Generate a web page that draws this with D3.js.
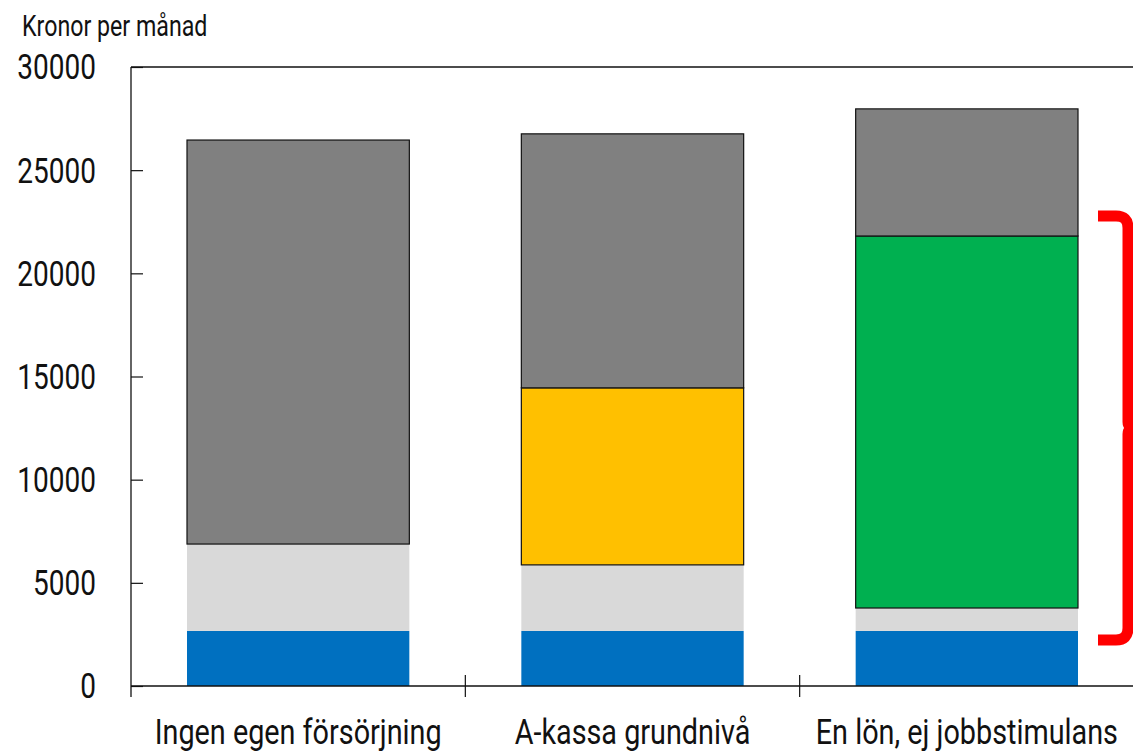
<!DOCTYPE html>
<html lang="sv">
<head>
<meta charset="UTF-8">
<script src="https://d3js.org/d3.v7.min.js"></script>
<style>
  body { margin: 0; background: #fff; }
  text { font-family: Roboto, "Noto Sans", sans-serif; fill: #111; }
</style>
</head>
<body>
<svg width="1133" height="752"></svg>
<script>
// data
const categories = ["Ingen egen försörjning", "A-kassa grundnivå", "En lön, ej jobbstimulans"];
const seriesNames = ["Bas", "Övrigt", "A-kassa", "Lön", "Rest"];
const seriesColors = ["#0070C0", "#D9D9D9", "#FFC000", "#00B050", "#808080"];
const seriesStroke = [false, false, true, true, true];
const bas    = [2670, 2670, 2670];
const ovrigt = [4210, 3200, 1110];
const akassa = [0, 8580, 0];
const lon    = [0, 0, 18030];
const rest   = [19580, 12310, 6160];
const yTicks = [0, 5000, 10000, 15000, 20000, 25000, 30000];
const bracketRange = [2230, 22780];

const svg = d3.select("svg");
const m = {left: 131, top: 67, right: 1134, bottom: 686};
const squeeze = 0.8; // condensed look

const x = d3.scaleBand().domain(categories).range([m.left, m.right]).paddingInner(0.335).paddingOuter(0.1675);
const band = d3.scaleBand().domain(categories).range([m.left, m.right]);
const y = d3.scaleLinear().domain([0, 30000]).range([m.bottom, m.top]);

const table = categories.map((c, i) => ({
  cat: c, Bas: bas[i], "Övrigt": ovrigt[i], "A-kassa": akassa[i], "Lön": lon[i], Rest: rest[i]
}));
const stack = d3.stack().keys(seriesNames)(table);

// bars
stack.forEach((layer, si) => {
  svg.append("g").selectAll("rect")
    .data(layer.filter(d => d[1] > d[0]))
    .enter().append("rect")
    .attr("x", d => x(d.data.cat))
    .attr("width", x.bandwidth())
    .attr("y", d => y(d[1]))
    .attr("height", d => y(d[0]) - y(d[1]))
    .attr("fill", seriesColors[si])
    .attr("stroke", seriesStroke[si] ? "#111" : "none")
    .attr("stroke-width", 1.2);
});

// frame: top line, left axis, bottom axis
svg.append("line").attr("x1", m.left).attr("x2", 1133).attr("y1", m.top).attr("y2", m.top)
  .attr("stroke", "#111").attr("stroke-width", 1.3);

const yAxis = svg.append("g").attr("transform", "translate(" + m.left + ",0)")
  .call(d3.axisLeft(y).tickValues(yTicks).tickSize(-12).tickFormat(d3.format("d")));
yAxis.select(".domain").remove();
yAxis.selectAll(".tick line").attr("stroke", "#111").attr("stroke-width", 1.2);
yAxis.selectAll(".tick text")
  .attr("x", -35 / squeeze)
  .attr("dy", "0.34em")
  .attr("transform", "scale(" + squeeze + ",1)")
  .attr("fill", "#111")
  .style("font-size", "35px");

svg.append("line").attr("x1", m.left).attr("x2", m.left).attr("y1", m.top).attr("y2", 697)
  .attr("stroke", "#111").attr("stroke-width", 1.3);
svg.append("line").attr("x1", m.left).attr("x2", 1133).attr("y1", m.bottom).attr("y2", m.bottom)
  .attr("stroke", "#111").attr("stroke-width", 1.3);

// category separators
svg.append("g").selectAll("line")
  .data(categories.slice(1))
  .enter().append("line")
  .attr("x1", d => band(d)).attr("x2", d => band(d))
  .attr("y1", 675).attr("y2", 697)
  .attr("stroke", "#111").attr("stroke-width", 1.2);

// category labels
svg.append("g").selectAll("text")
  .data(categories)
  .enter().append("text")
  .attr("transform", d => "translate(" + (band(d) + band.bandwidth() / 2) + ",744) scale(" + squeeze + ",1)")
  .attr("text-anchor", "middle")
  .style("font-size", "36px")
  .text(d => d);

// y axis title
svg.append("text")
  .attr("transform", "translate(22,36) scale(" + squeeze + ",1)")
  .style("font-size", "29px")
  .text("Kronor per månad");

// red bracket
const bx = 1128, r = 12, b0 = y(bracketRange[0]), b1 = y(bracketRange[1]), bm = (b0 + b1) / 2;
const path = d3.path();
path.moveTo(1098, b1);
path.lineTo(bx - r, b1);
path.quadraticCurveTo(bx, b1, bx, b1 + r);
path.lineTo(bx, bm - 6);
path.quadraticCurveTo(bx, bm, bx + 8, bm);
path.quadraticCurveTo(bx, bm, bx, bm + 6);
path.lineTo(bx, b0 - r);
path.quadraticCurveTo(bx, b0, bx - r, b0);
path.lineTo(1098, b0);
svg.append("path").attr("d", path.toString())
  .attr("fill", "none").attr("stroke", "#FF0000").attr("stroke-width", 11);
</script>
</body>
</html>
